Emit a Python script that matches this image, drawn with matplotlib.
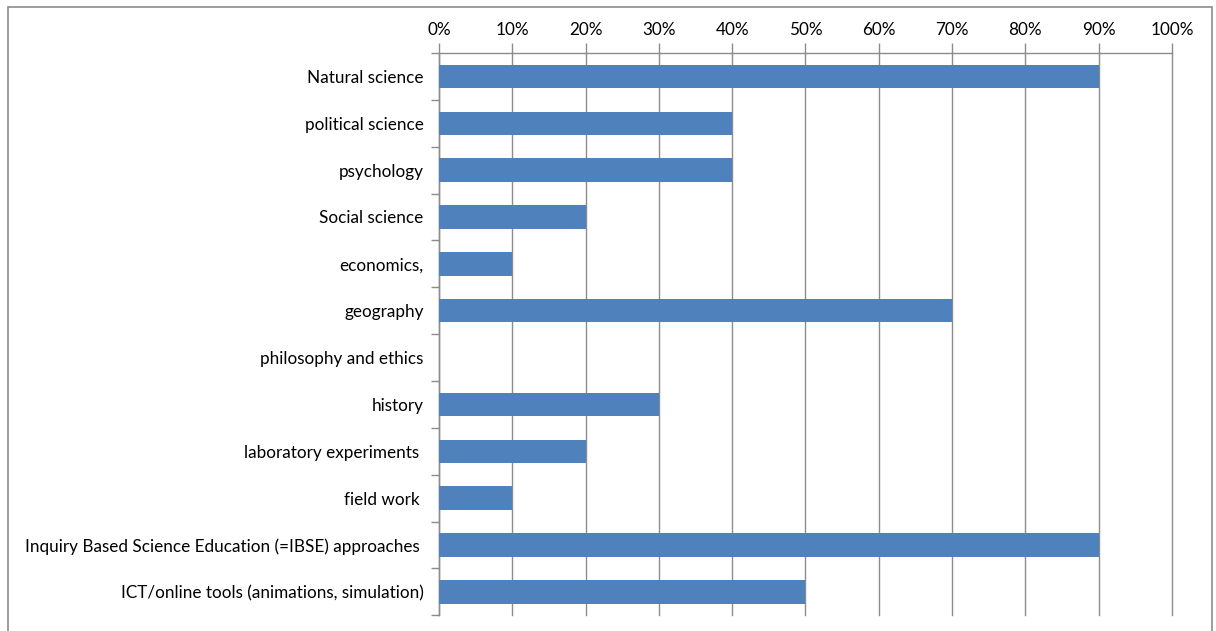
import numpy as np
import matplotlib
matplotlib.use("Agg")
import matplotlib.pyplot as plt
from matplotlib.ticker import FuncFormatter, FixedLocator
from matplotlib.patches import Rectangle

plt.rcParams['font.family'] = ['Lato', 'DejaVu Sans']

categories = [
    "Natural science",
    "political science",
    "psychology",
    "Social science",
    "economics,",
    "geography",
    "philosophy and ethics",
    "history",
    "laboratory experiments ",
    "field work ",
    "Inquiry Based Science Education (=IBSE) approaches ",
    "ICT/online tools (animations, simulation)",
]
shares = [0.90, 0.40, 0.40, 0.20, 0.10, 0.70, 0.0, 0.30, 0.20, 0.10, 0.90, 0.50]
x_ticks = np.arange(0, 1.01, 0.1)

bar_color = "#4F81BD"
grid_color = "#8C8C8C"

fig = plt.figure(figsize=(12.16, 6.31), dpi=100)
ax = fig.add_axes([0.361, 0.025, 0.6028, 0.891])

y = np.arange(len(categories))
ax.barh(y, shares, height=0.5, color=bar_color, zorder=3)

ax.set_xlim(0, 1)
ax.set_ylim(len(categories) - 0.5, -0.5)

# percent axis across the top
ax.xaxis.tick_top()
ax.set_xticks(x_ticks)
ax.xaxis.set_major_formatter(FuncFormatter(lambda v, p: "%d%%" % round(v * 100)))
ax.tick_params(axis='x', direction='out', length=7, width=1, color=grid_color,
               labelsize=12.3, pad=4)
ax.grid(axis='x', color=grid_color, linewidth=1, zorder=0)
for line in ax.get_xgridlines():
    line.set_clip_on(False)

# category labels, ticks between rows
ax.set_yticks(y)
ax.set_yticklabels(categories)
ax.yaxis.set_minor_locator(FixedLocator(np.arange(-0.5, len(categories), 1)))
ax.tick_params(axis='y', which='major', length=0, labelsize=12.3, pad=11)
ax.tick_params(axis='y', which='minor', direction='out', length=6, width=1,
               color=grid_color)

for side in ['right', 'bottom']:
    ax.spines[side].set_visible(False)
for side in ['top', 'left']:
    ax.spines[side].set_color(grid_color)
    ax.spines[side].set_linewidth(1)

# chart area border, open at the bottom edge
fig.patches.append(Rectangle((0.0066, -0.02), 0.99, 1.009, transform=fig.transFigure,
                             fill=False, edgecolor="#8C8C8C", linewidth=1.2))

fig.savefig("out.png", dpi=100)
